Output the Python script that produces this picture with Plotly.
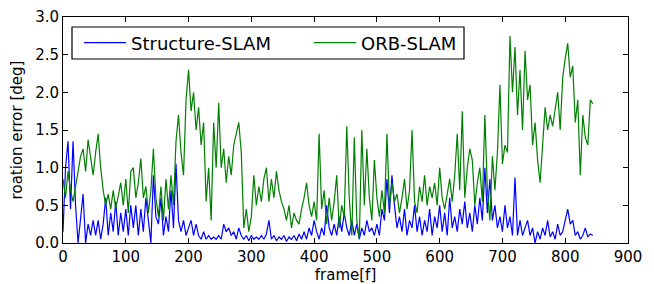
import plotly.graph_objects as go

step = 4
frames = list(range(0, 845, step))

orb_slam = [
    0.85, 0.6, 0.95, 0.7, 0.55, 0.75, 1.0, 1.15, 1.25, 0.95,
    1.37, 1.1, 0.9, 1.2, 1.45, 1.0, 0.7, 0.5, 0.65, 0.45,
    0.7, 0.45, 0.65, 0.8, 0.5, 0.85, 0.4, 0.95, 1.0, 0.6,
    0.8, 1.12, 0.6, 0.75, 0.4, 0.7, 1.25, 0.6, 0.35, 0.75,
    0.3, 0.85, 0.45, 0.9, 0.5, 1.35, 1.7, 1.2, 0.9, 1.9,
    2.3, 1.75, 2.0, 1.5, 1.8, 1.3, 1.6, 0.55, 1.0, 0.3,
    1.6, 1.0, 1.86, 1.0, 1.25, 0.8, 1.15, 0.9, 1.3, 1.45,
    1.6, 1.2, 0.2, 0.45, 0.15, 0.35, 0.9, 0.5, 0.75, 0.55,
    0.85, 1.0, 0.55, 0.85, 0.6, 0.95, 0.7, 0.55, 0.45, 0.3,
    0.5, 0.2, 0.4, 0.3, 0.25, 0.45, 0.6, 0.8, 0.5, 0.35,
    0.55, 0.3, 1.45, 0.45, 0.7, 0.25, 0.6, 0.3, 0.55, 0.9,
    0.2, 0.5, 0.35, 1.55, 0.6, 0.1, 1.4, 0.3, 0.05, 1.5,
    0.5, 1.25, 0.6, 0.3, 1.1, 0.6, 0.35, 0.7, 0.4, 1.45,
    0.5, 0.8, 0.55, 0.65, 0.4, 0.6, 0.85, 0.45, 0.7, 1.5,
    0.55, 0.4, 0.75, 0.55, 0.9, 0.5, 0.75, 0.6, 0.8, 0.5,
    1.0, 0.6, 0.45, 0.65, 0.85, 0.55, 0.9, 1.45, 0.7, 1.75,
    0.6, 1.0, 1.25, 1.1, 0.5, 0.8, 1.0, 0.55, 1.7, 0.7,
    0.3, 1.15, 0.7, 1.2, 2.1, 1.05, 1.3, 1.2, 2.75, 2.0,
    2.6, 1.7, 2.3, 1.5, 2.55, 1.9, 2.1, 1.3, 1.6, 1.1,
    0.8, 1.3, 1.8, 1.5, 1.7, 1.55, 1.8, 2.0, 1.5, 2.2,
    2.45, 2.65, 2.2, 2.35, 1.6, 1.9, 0.9, 1.7, 1.4, 1.3,
    1.9, 1.85,
]

structure_slam = [
    0.15, 1.0, 1.35, 0.45, 1.35, 0.5, 0.0, 0.3, 0.65, 0.0,
    0.25, 0.1, 0.3, 0.1, 0.3, 0.05, 0.25, 0.6, 0.1, 0.4,
    0.15, 0.55, 0.1, 0.4, 0.15, 0.45, 0.1, 0.5, 0.2, 0.5,
    0.1, 0.45, 0.15, 0.6, 0.3, 0.0, 0.9, 0.35, 0.25, 0.6,
    0.1, 0.35, 0.15, 0.7, 0.2, 1.05, 0.3, 0.15, 0.3, 0.1,
    0.2, 0.3, 0.1, 0.25, 0.1, 0.05, 0.15, 0.05, 0.1, 0.05,
    0.08, 0.05, 0.1, 0.05, 0.25, 0.15, 0.2, 0.1, 0.15, 0.05,
    0.2, 0.1, 0.05, 0.1, 0.03, 0.1, 0.05, 0.08, 0.05, 0.1,
    0.05, 0.12, 0.3, 0.05, 0.1, 0.03, 0.08, 0.05, 0.1, 0.02,
    0.08, 0.05, 0.1, 0.03, 0.12, 0.05, 0.15, 0.05, 0.2, 0.1,
    0.3, 0.15, 0.05, 0.2, 0.1, 0.5, 0.2, 0.1, 0.25, 0.1,
    0.35, 0.15, 0.4, 0.2, 0.1, 0.3, 0.1, 0.25, 0.05, 0.2,
    0.1, 0.3, 0.15, 0.2, 0.1, 0.25, 0.1, 0.45, 0.3, 0.85,
    0.4, 0.9, 0.5, 0.2, 0.35, 0.15, 0.45, 0.1, 0.3, 0.2,
    0.5, 0.15, 0.35, 0.1, 0.3, 0.15, 0.45, 0.1, 0.35, 0.2,
    0.5, 0.15, 0.4, 0.1, 0.6, 0.2, 0.35, 0.15, 0.45, 0.25,
    0.55, 0.2, 0.4, 0.15, 0.5, 0.25, 0.6, 0.3, 1.0, 0.4,
    0.85, 0.3, 0.5, 0.2, 0.35, 0.15, 0.5, 0.2, 0.35, 0.1,
    0.87, 0.1, 0.3, 0.1, 0.2, 0.3, 0.1, 0.2, 0.0, 0.15,
    0.05, 0.2, 0.1, 0.3, 0.08, 0.15, 0.05, 0.25, 0.1, 0.15,
    0.3, 0.45, 0.25, 0.3, 0.1, 0.15, 0.05, 0.1, 0.2, 0.08,
    0.12, 0.1,
]

x_ticks = [0, 100, 200, 300, 400, 500, 600, 700, 800, 900]
y_ticks = [0.0, 0.5, 1.0, 1.5, 2.0, 2.5, 3.0]

FONT = "DejaVu Sans"
W, H = 654, 284
ML, MR, MT, MB = 63, 26, 17, 41
PW, PH = W - ML - MR, H - MT - MB


def px_x(px):
    return (px - ML) / PW


def px_y(py):
    return (H - MB - py) / PH


fig = go.Figure()
fig.add_trace(go.Scatter(x=frames, y=structure_slam, mode="lines",
                         name="Structure-SLAM",
                         line=dict(color="#0000ff", width=1.2)))
fig.add_trace(go.Scatter(x=frames, y=orb_slam, mode="lines",
                         name="ORB-SLAM",
                         line=dict(color="#008000", width=1.2)))

axis_common = dict(showline=True, linecolor="black", linewidth=1,
                   mirror="ticks", ticks="inside", ticklen=5,
                   tickcolor="black", showgrid=False, zeroline=False,
                   tickfont=dict(family=FONT, size=15, color="black"))

fig.update_xaxes(range=[0, 900], tickvals=x_ticks,
                 ticktext=[str(v) for v in x_ticks],
                 title=dict(text="frame[f]", standoff=6,
                            font=dict(family=FONT, size=15, color="black")),
                 **axis_common)
fig.update_yaxes(range=[0, 3], tickvals=y_ticks,
                 ticktext=[f"{v:.1f}" for v in y_ticks],
                 title=dict(text="roation error [deg]", standoff=8,
                            font=dict(family=FONT, size=15, color="black")),
                 **axis_common)

# legend frame
fig.add_shape(type="rect", xref="paper", yref="paper",
              x0=px_x(72), x1=px_x(464), y0=px_y(59), y1=px_y(27),
              line=dict(color="black", width=1.2), fillcolor="white",
              layer="above")

fig.update_layout(
    width=W, height=H,
    margin=dict(l=ML, r=MR, t=MT, b=MB, autoexpand=False),
    paper_bgcolor="white", plot_bgcolor="white",
    font=dict(family=FONT, color="black"),
    hovermode=False,
    legend=dict(orientation="h", x=px_x(79), y=px_y(43),
                xanchor="left", yanchor="middle",
                bgcolor="rgba(0,0,0,0)", borderwidth=0,
                font=dict(family=FONT, size=18, color="black"),
                entrywidth=173, itemwidth=42, tracegroupgap=0),
    showlegend=True,
)

fig.write_html("out.html",
               config={"displayModeBar": False, "staticPlot": True},
               post_script="document.body.style.margin='0';"
                           "document.body.style.padding='0';"
                           "document.documentElement.style.overflow='hidden';")
